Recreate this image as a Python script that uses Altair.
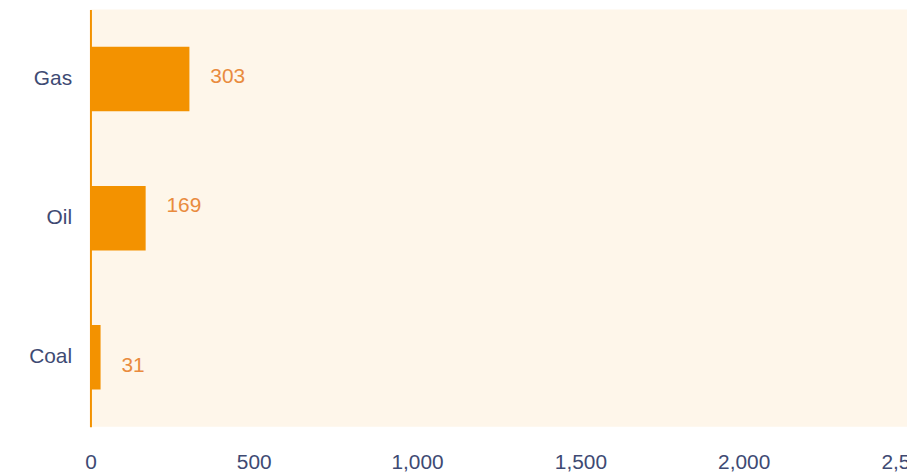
import altair as alt
import pandas as pd

categories = ["Gas", "Oil", "Coal"]
values = [303, 169, 31]
x_ticks = [0, 500, 1000, 1500, 2000, 2500]

df = pd.DataFrame({"fuel": categories, "value": values})

ORANGE = "#F39200"
LABEL_ORANGE = "#E98B3E"
TEXT_BLUE = "#3E4A73"
CREAM = "#FEF6EA"
FONT = "Liberation Sans"

y_enc = alt.Y(
    "fuel:N",
    sort=categories,
    title=None,
    scale=alt.Scale(paddingInner=0.536, paddingOuter=0.268),
    axis=alt.Axis(
        domain=True,
        domainColor=ORANGE,
        domainWidth=2,
        ticks=False,
        labelColor=TEXT_BLUE,
        labelFontSize=21,
        labelFont=FONT,
        labelPadding=19,
        grid=False,
    ),
)
x_enc = alt.X(
    "value:Q",
    title=None,
    scale=alt.Scale(domain=[0, 2500], nice=False),
    axis=alt.Axis(
        values=x_ticks,
        format=",d",
        domain=False,
        ticks=False,
        grid=False,
        labelColor=TEXT_BLUE,
        labelFontSize=21,
        labelFont=FONT,
        labelPadding=25,
        labelFlush=False,
        labelOverlap=False,
    ),
)

bars = alt.Chart(df).mark_bar(color=ORANGE).encode(x=x_enc, y=y_enc)

label_dy = {"Gas": -2, "Oil": -12, "Coal": 9}
texts = []
for cat in categories:
    t = (
        alt.Chart(df)
        .transform_filter(alt.datum.fuel == cat)
        .mark_text(
            align="left",
            baseline="middle",
            dx=21,
            dy=label_dy[cat],
            fontSize=21,
            font=FONT,
            color=LABEL_ORANGE,
        )
        .encode(x=x_enc, y=y_enc, text=alt.Text("value:Q"))
    )
    texts.append(t)

chart = (
    alt.layer(bars, *texts)
    .properties(
        width=822,
        height=420,
        autosize="none",
        padding={"left": 83, "top": 0, "right": 0, "bottom": 50},
        background="white",
    )
    .configure_view(fill=CREAM, strokeWidth=0)
)

chart.save("out.html", embed_options={"renderer": "svg", "actions": False})
